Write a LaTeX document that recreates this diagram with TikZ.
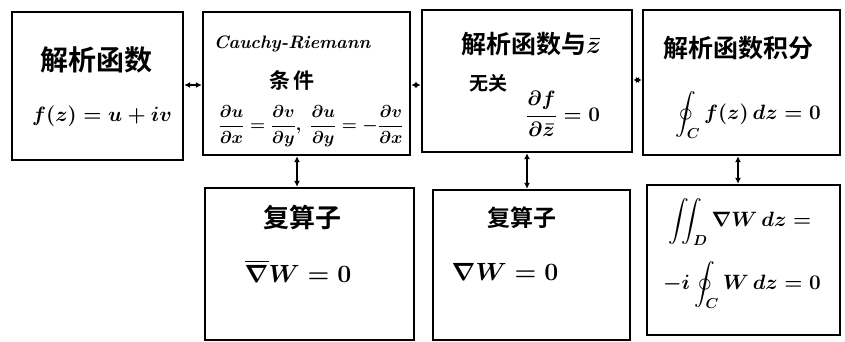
\documentclass[tikz,border=0pt]{standalone}
\usepackage{fontspec}
\usepackage{amsmath}
\newfontfamily\cjk[BoldFont={Noto Sans CJK SC Bold}]{Noto Sans CJK SC}
\usetikzlibrary{arrows.meta}
\tikzset{
  box/.style={draw=black, line width=2.4pt, inner sep=0pt},
  conn/.style={line width=2pt, {Latex[length=6pt,width=6pt]}-{Latex[length=6pt,width=6pt]}},
  zh/.style={font=\cjk\bfseries\fontsize{26}{28}\selectfont, inner sep=0pt},
  eq/.style={font=\boldmath\fontsize{21}{23}\selectfont, inner sep=0pt},
}
\begin{document}
\begin{tikzpicture}[x=1pt,y=-1pt]
\useasboundingbox (0,0) rectangle (845,342);
% boxes
\node[box, minimum width=171pt, minimum height=148pt] (b1) at (97.5,86) {};
\node[box, minimum width=207pt, minimum height=143pt] (b2) at (306.5,83.5) {};
\node[box, minimum width=210pt, minimum height=142pt] (b3) at (527,81) {};
\node[box, minimum width=197pt, minimum height=145pt] (b4) at (741.5,82.5) {};
\node[box, minimum width=209pt, minimum height=152pt] (b5) at (309.5,264) {};
\node[box, minimum width=197pt, minimum height=150pt] (b6) at (531.5,265) {};
\node[box, minimum width=193pt, minimum height=150pt] (b7) at (743.5,260) {};
% texts
\node[zh, font=\cjk\bfseries\fontsize{28}{30}\selectfont] (t1a) at (96,60) {解析函数};
\node[eq, font=\boldmath\fontsize{21}{23}\selectfont] (t1b) at (102,116) {$f(z)=u+iv$};
\node[font=\bfseries\itshape\fontsize{18}{20}\selectfont, inner sep=0pt] (t2a) at (292,44) {Cauchy-Riemann};
\node[zh, font=\cjk\bfseries\fontsize{21}{23}\selectfont] (t2b) at (292,80) {条\,件};
\node[eq, font=\boldmath\fontsize{18}{20}\selectfont] (t2c) at (311,126) {$\dfrac{\partial u}{\partial x}=\dfrac{\partial v}{\partial y},\ \dfrac{\partial u}{\partial y}=-\dfrac{\partial v}{\partial x}$};
\node[zh, font=\cjk\bfseries\fontsize{25}{27}\selectfont] (t3a) at (531,44) {解析函数与$\boldsymbol{\bar z}$};
\node[zh, font=\cjk\bfseries\fontsize{19}{21}\selectfont] (t3b) at (488,83) {无关};
\node[eq] (t3c) at (563,114) {$\dfrac{\partial f}{\partial \bar z}=0$};
\node[zh, font=\cjk\bfseries\fontsize{25}{27}\selectfont] (t4a) at (738,48) {解析函数积分};
\node[eq, font=\boldmath\fontsize{22}{24}\selectfont] (t4b) at (748,115) {$\displaystyle\oint_C f(z)\,dz=0$};
\node[zh] (t5a) at (302,218) {复算子};
\node[eq, font=\boldmath\fontsize{23}{25}\selectfont] (t5b) at (298,271) {$\overline{\nabla}W=0$};
\node[zh, font=\cjk\bfseries\fontsize{23}{25}\selectfont] (t6a) at (522,218) {复算子};
\node[eq, font=\boldmath\fontsize{23}{25}\selectfont] (t6b) at (505,272) {$\nabla W=0$};
\node[eq] (t7a) at (740,222) {$\displaystyle\iint_D \nabla W\,dz=$};
\node[eq] (t7b) at (742,285) {$\displaystyle -i\oint_C W\,dz=0$};
% connectors
\draw[conn] (b1.east |- 0,85) -- (b2.west |- 0,85);
\draw[conn] (b2.east |- 0,85) -- (b3.west |- 0,85);
\draw[conn] (b3.east |- 0,80) -- (b4.west |- 0,80);
\draw[conn] (b2.south -| 297,0) -- (b5.north -| 297,0);
\draw[conn] (b3.south -| 527,0) -- (b6.north -| 527,0);
\draw[conn] (b4.south -| 738,0) -- (b7.north -| 738,0);
\end{tikzpicture}
\end{document}
